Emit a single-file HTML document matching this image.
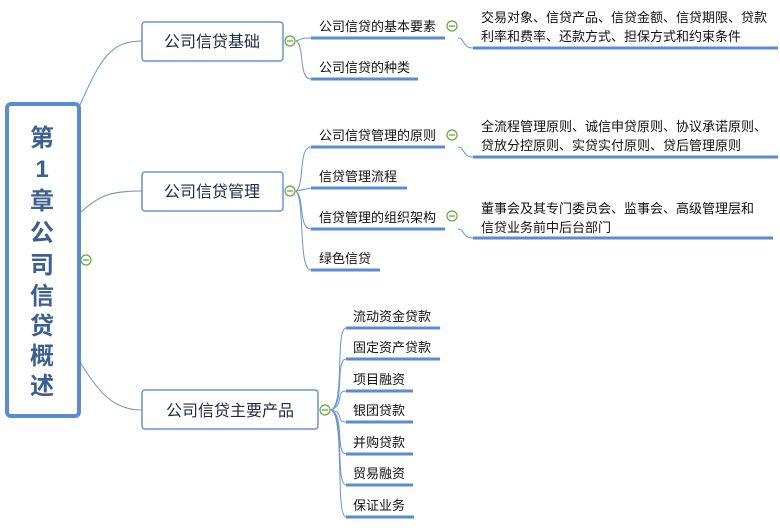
<!DOCTYPE html>
<html><head><meta charset="utf-8"><style>
html,body{margin:0;padding:0;background:#fff;}
svg{display:block;}
text{font-family:"Liberation Sans","Noto Sans CJK SC",sans-serif;fill:#111;}
</style></head><body>
<svg width="780" height="528" viewBox="0 0 780 528" xmlns="http://www.w3.org/2000/svg">
<g fill="none" stroke="#6b94cf" stroke-width="1">
<path d="M80 105 C100 60,110 41,142 41"/>
<path d="M80 213 C100 195,110 191,142 191"/>
<path d="M80 362 C100 395,115 410,142 410"/>
<path d="M296 41 C305 38,300 38,311 38"/>
<path d="M296 41 C305 45,298 79,311 79"/>
<path d="M296 191 C305 185,298 147,311 147"/>
<path d="M296 191 L311 188"/>
<path d="M296 191 C305 198,298 229,311 229"/>
<path d="M296 191 C305 200,298 270,311 270"/>
<path d="M458 38 C465 38,462 48,473 48"/>
<path d="M458 147 C465 147,462 157,473 157"/>
<path d="M458 229 C465 229,462 238,473 238"/>
<path d="M331 410 C345 405,335 328,346 328"/>
<path d="M331 410 C345 405,335 359,346 359"/>
<path d="M331 410 C345 405,335 391,346 391"/>
<path d="M331 410 C345 412,335 422,346 422"/>
<path d="M331 410 C345 415,335 454,346 454"/>
<path d="M331 410 C345 415,335 485,346 485"/>
<path d="M331 410 C345 415,335 517,346 517"/>
</g>
<rect x="7" y="104" width="72" height="312" rx="4" fill="#fff" stroke="#5b8bd0" stroke-width="4"/>
<g font-size="24" font-weight="bold" text-anchor="middle" style="fill:#3d5f8f">
<text x="42" y="146" style="fill:#3d5f8f">第</text>
<text x="42" y="177" style="fill:#3d5f8f">1</text>
<text x="42" y="209" style="fill:#3d5f8f">章</text>
<text x="42" y="241" style="fill:#3d5f8f">公</text>
<text x="42" y="273" style="fill:#3d5f8f">司</text>
<text x="42" y="304" style="fill:#3d5f8f">信</text>
<text x="42" y="334" style="fill:#3d5f8f">贷</text>
<text x="42" y="364" style="fill:#3d5f8f">概</text>
<text x="42" y="394" style="fill:#3d5f8f">述</text>
</g>
<g fill="#fff" stroke="#6b94cf" stroke-width="1.5">
<rect x="142" y="22" width="141" height="39" rx="3"/>
<rect x="142" y="172" width="141" height="39" rx="3"/>
<rect x="142" y="390" width="176" height="39" rx="3"/>
</g>
<g font-size="16" text-anchor="middle">
<text x="212" y="47" style="fill:#1c2a44">公司信贷基础</text>
<text x="212" y="197" style="fill:#1c2a44">公司信贷管理</text>
<text x="230" y="416" style="fill:#1c2a44">公司信贷主要产品</text>
</g>
<g fill="#fff" stroke="#62a83a" stroke-width="1.2">
<circle cx="86" cy="260" r="5"/><circle cx="290" cy="41" r="5"/><circle cx="290" cy="191" r="5"/><circle cx="325" cy="410" r="5"/>
<circle cx="452" cy="26" r="5"/><circle cx="452" cy="135" r="5"/><circle cx="452" cy="216" r="5"/>
</g>
<g stroke="#62a83a" stroke-width="1.2">
<path d="M83 260h6M287 41h6M287 191h6M322 410h6M449 26h6M449 135h6M449 216h6"/>
</g>
<g stroke="#5b8bd0" stroke-width="3">
<path d="M311 38h134M311 79h107M311 147h134M311 188h96M311 229h134M311 270h69"/>
<path d="M473 48h305M473 157h305M473 238h300"/>
<path d="M346 328h94M346 359h94M346 391h67M346 422h67M346 454h67M346 485h67M346 517h68"/>
</g>
<g font-size="13">
<text x="319" y="31">公司信贷的基本要素</text>
<text x="319" y="72">公司信贷的种类</text>
<text x="319" y="140">公司信贷管理的原则</text>
<text x="319" y="181">信贷管理流程</text>
<text x="319" y="222">信贷管理的组织架构</text>
<text x="319" y="263">绿色信贷</text>
<text x="481" y="22">交易对象、信贷产品、信贷金额、信贷期限、贷款</text>
<text x="481" y="41">利率和费率、还款方式、担保方式和约束条件</text>
<text x="481" y="131">全流程管理原则、诚信申贷原则、协议承诺原则、</text>
<text x="481" y="150">贷放分控原则、实贷实付原则、贷后管理原则</text>
<text x="481" y="213">董事会及其专门委员会、监事会、高级管理层和</text>
<text x="481" y="232">信贷业务前中后台部门</text>
<text x="353" y="321">流动资金贷款</text>
<text x="353" y="352">固定资产贷款</text>
<text x="353" y="384">项目融资</text>
<text x="353" y="415">银团贷款</text>
<text x="353" y="447">并购贷款</text>
<text x="353" y="478">贸易融资</text>
<text x="353" y="510">保证业务</text>
</g>
</svg>
</body></html>
